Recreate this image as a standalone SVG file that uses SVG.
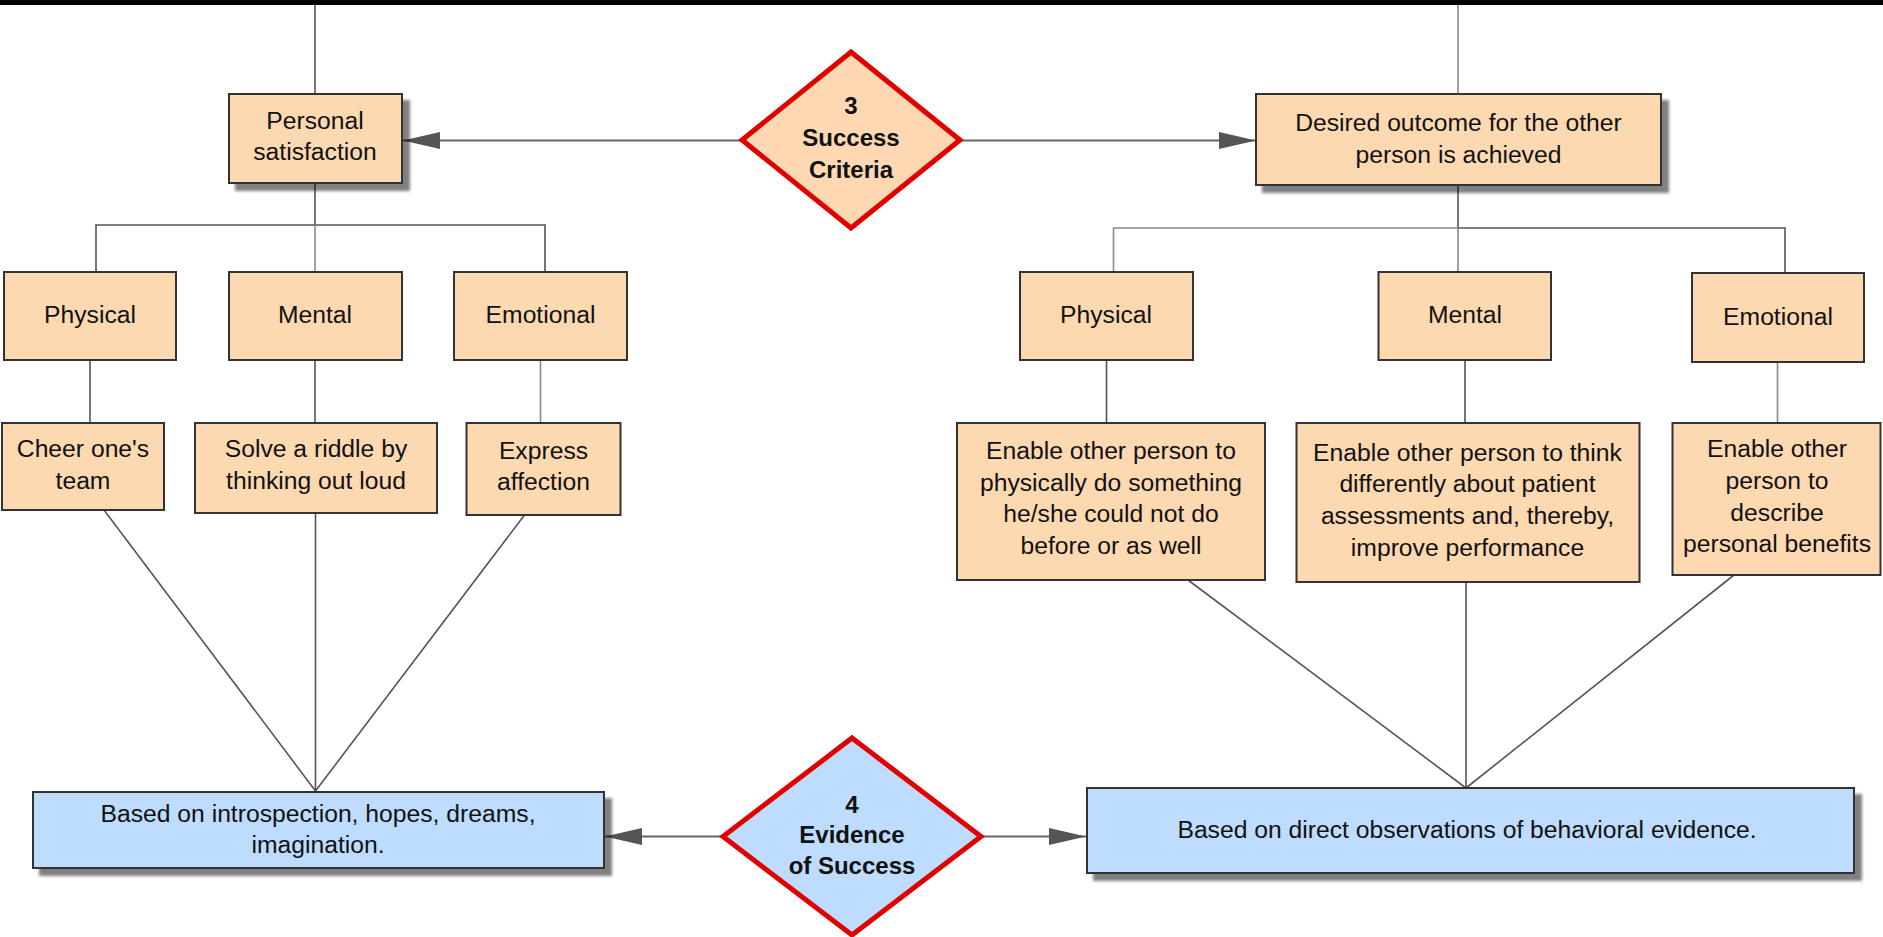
<svg xmlns="http://www.w3.org/2000/svg" width="1883" height="937" viewBox="0 0 1883 937">
<style>
.box{fill:#FDD9B1;stroke:#333;stroke-width:2}
.bbox{fill:#BEDCFD;stroke:#333;stroke-width:2}
.dia{stroke:#E00000;stroke-width:5;stroke-linejoin:miter}
.t{font-family:"Liberation Sans",Arial,sans-serif;font-size:24.7px;fill:#111;text-anchor:middle}
.tb{font-family:"Liberation Sans",Arial,sans-serif;font-size:24px;font-weight:bold;fill:#111;text-anchor:middle}
.c{stroke:#555;stroke-width:1.6;fill:none}
.cl{stroke:#8a8a8a;stroke-width:1.6;fill:none}
.a{stroke:#666;stroke-width:2;fill:none;marker-end:url(#ah)}
</style>
<defs>
<marker id="ah" markerUnits="userSpaceOnUse" markerWidth="38" markerHeight="18" refX="37" refY="8.5" orient="auto">
<path d="M0,0 L37,8.5 L0,17 z" fill="#555"/>
</marker>
<filter id="sh" x="-5%" y="-10%" width="115%" height="135%">
<feGaussianBlur in="SourceAlpha" stdDeviation="1.5"/>
<feOffset dx="7" dy="7" result="o"/>
<feComponentTransfer><feFuncA type="linear" slope="0.5"/></feComponentTransfer>
<feMerge><feMergeNode/><feMergeNode in="SourceGraphic"/></feMerge>
</filter>
</defs>
<rect x="0" y="0" width="1883" height="5" fill="#000"/>

<g id="connectors">
<line class="c" x1="315" y1="5" x2="315" y2="94"/>
<line class="cl" x1="1458" y1="5" x2="1458" y2="94"/>
<line class="c" x1="315" y1="183" x2="315" y2="225"/>
<polyline class="c" points="96,272 96,225 545,225 545,272"/>
<line class="cl" x1="315" y1="225" x2="315" y2="272"/>
<line class="c" x1="90" y1="360" x2="90" y2="423"/>
<line class="c" x1="315" y1="360" x2="315" y2="423"/>
<line class="cl" x1="540.5" y1="360" x2="540.5" y2="423"/>
<line class="c" x1="104" y1="510" x2="315.5" y2="791"/>
<line class="c" x1="315.5" y1="513" x2="315.5" y2="791"/>
<line class="c" x1="524.5" y1="515" x2="315.5" y2="791"/>
<line class="c" x1="1458" y1="185" x2="1458" y2="228"/>
<polyline class="cl" points="1113.5,272 1113.5,228 1458,228"/>
<polyline class="c" points="1458,228 1785,228 1785,273"/>
<line class="cl" x1="1458" y1="228" x2="1458" y2="272"/>
<line class="c" x1="1106.5" y1="360" x2="1106.5" y2="423"/>
<line class="c" x1="1465" y1="360" x2="1465" y2="423"/>
<line class="cl" x1="1777.5" y1="362" x2="1777.5" y2="423"/>
<line class="c" x1="1188" y1="580" x2="1466" y2="788"/>
<line class="c" x1="1466" y1="582" x2="1466" y2="788"/>
<line class="c" x1="1734" y1="575" x2="1466" y2="788"/>
<line class="a" x1="741" y1="140.5" x2="403" y2="140.5"/>
<line class="a" x1="961" y1="140.5" x2="1256" y2="140.5"/>
<line class="a" x1="722" y1="836.5" x2="605" y2="836.5"/>
<line class="a" x1="982" y1="836.5" x2="1086" y2="836.5"/>
</g>

<g id="success-criteria">
<polygon class="dia" fill="#FDD8B2" points="851,52 960,140 851,228 742,140"/>
<text class="tb" x="851" y="114">3</text>
<text class="tb" x="851" y="146">Success</text>
<text class="tb" x="851" y="178">Criteria</text>
</g>

<g id="personal-satisfaction">
<rect class="box" filter="url(#sh)" x="229" y="94" width="173" height="89"/>
<text class="t" x="315" y="128.5">Personal</text>
<text class="t" x="315" y="160">satisfaction</text>
</g>

<g id="desired-outcome">
<rect class="box" filter="url(#sh)" x="1256" y="94" width="405" height="91"/>
<text class="t" x="1458.5" y="131">Desired outcome for the other</text>
<text class="t" x="1458.5" y="163">person is achieved</text>
</g>

<g id="physical-left">
<rect class="box" x="4" y="272" width="172" height="88"/>
<text class="t" x="90" y="323">Physical</text>
</g>
<g id="mental-left">
<rect class="box" x="229" y="272" width="173" height="88"/>
<text class="t" x="315" y="323">Mental</text>
</g>
<g id="emotional-left">
<rect class="box" x="454" y="272" width="173" height="88"/>
<text class="t" x="540.5" y="323">Emotional</text>
</g>

<g id="cheer">
<rect class="box" x="2" y="423" width="162" height="87"/>
<text class="t" x="83" y="457">Cheer one's</text>
<text class="t" x="83" y="489">team</text>
</g>
<g id="solve">
<rect class="box" x="195" y="423" width="242" height="90"/>
<text class="t" x="316" y="457">Solve a riddle by</text>
<text class="t" x="316" y="489">thinking out loud</text>
</g>
<g id="express">
<rect class="box" x="466.5" y="423" width="154" height="92"/>
<text class="t" x="543.5" y="459">Express</text>
<text class="t" x="543.5" y="490">affection</text>
</g>

<g id="physical-right">
<rect class="box" x="1020" y="272" width="173" height="88"/>
<text class="t" x="1106" y="323">Physical</text>
</g>
<g id="mental-right">
<rect class="box" x="1378.5" y="272" width="172.5" height="88"/>
<text class="t" x="1465" y="323">Mental</text>
</g>
<g id="emotional-right">
<rect class="box" x="1692" y="273" width="172" height="89"/>
<text class="t" x="1778" y="325">Emotional</text>
</g>

<g id="enable-physical">
<rect class="box" x="957" y="423" width="308" height="157"/>
<text class="t" x="1111" y="459">Enable other person to</text>
<text class="t" x="1111" y="491">physically do something</text>
<text class="t" x="1111" y="522">he/she could not do</text>
<text class="t" x="1111" y="554">before or as well</text>
</g>
<g id="enable-mental">
<rect class="box" x="1296.5" y="423" width="343" height="159"/>
<text class="t" x="1467.5" y="461">Enable other person to think</text>
<text class="t" x="1467.5" y="492">differently about patient</text>
<text class="t" x="1467.5" y="524">assessments and, thereby,</text>
<text class="t" x="1467.5" y="556">improve performance</text>
</g>
<g id="enable-emotional">
<rect class="box" x="1672.5" y="423" width="208" height="152"/>
<text class="t" x="1777" y="457">Enable other</text>
<text class="t" x="1777" y="489">person to</text>
<text class="t" x="1777" y="521">describe</text>
<text class="t" x="1777" y="552">personal benefits</text>
</g>

<g id="evidence-left">
<rect class="bbox" filter="url(#sh)" x="33" y="792" width="571" height="76"/>
<text class="t" x="318" y="822">Based on introspection, hopes, dreams,</text>
<text class="t" x="318" y="853">imagination.</text>
</g>

<g id="evidence-of-success">
<polygon class="dia" fill="#BEDCFD" points="852,738 981,836.5 852,935 723,836.5"/>
<text class="tb" x="852" y="813">4</text>
<text class="tb" x="852" y="843">Evidence</text>
<text class="tb" x="852" y="874">of Success</text>
</g>

<g id="evidence-right">
<rect class="bbox" filter="url(#sh)" x="1087" y="788" width="767" height="85"/>
<text class="t" x="1467" y="838">Based on direct observations of behavioral evidence.</text>
</g>
</svg>
